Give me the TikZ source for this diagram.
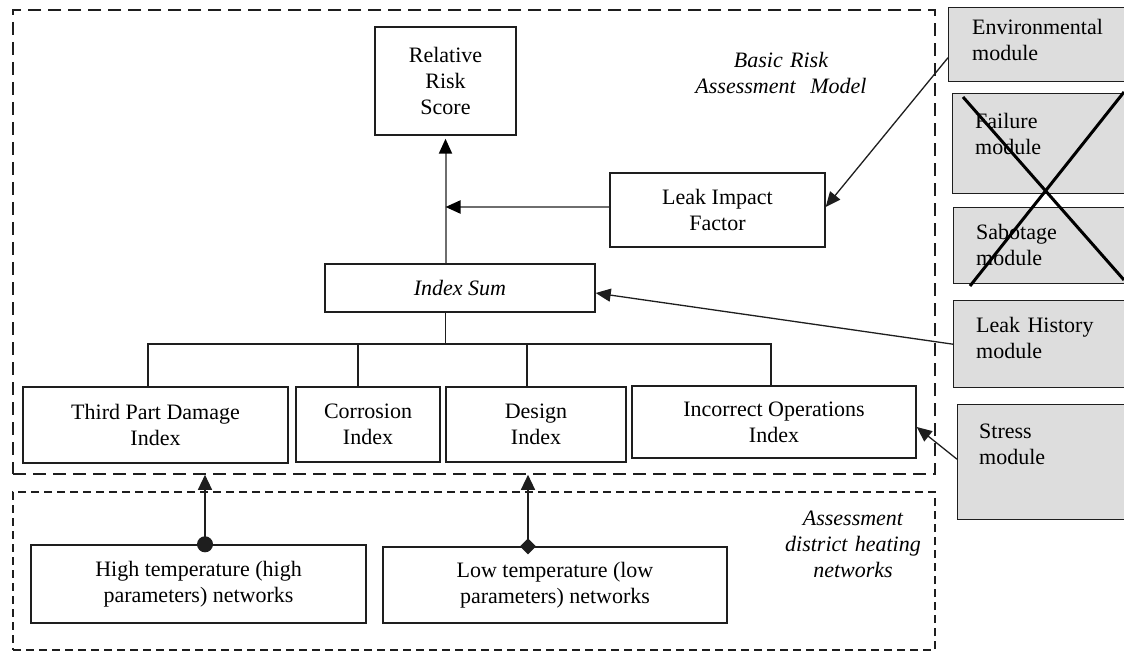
\documentclass[tikz,border=0pt]{standalone}
\usepackage{fontspec}
\setmainfont{Liberation Serif}
\usetikzlibrary{arrows.meta,calc}
\definecolor{modgray}{RGB}{221,221,221}
\definecolor{edgec}{RGB}{30,30,30}
\definecolor{garrowc}{RGB}{110,110,110}
\begin{document}
\begin{tikzpicture}[x=1pt,y=-1pt,
  every node/.style={font=\fontsize{22}{26}\selectfont, inner sep=0pt},
  box/.style={draw=edgec, line width=1.4pt, fill=white, align=center},
  gbox/.style={draw=edgec, line width=1.4pt, fill=modgray},
  frameA/.style={draw=edgec, line width=1.6pt, dash pattern=on 13pt off 7pt},
  frameB/.style={draw=edgec, line width=1.6pt, dash pattern=on 8pt off 5pt},
  conn/.style={draw=edgec, line width=1.3pt},
  arr/.style={conn, -{Triangle[length=15pt,width=13pt]}},
  garr/.style={draw=garrowc, line width=2pt, -{Triangle[length=15pt,width=13pt,fill=black,color=black]}},
  mtext/.style={anchor=base west, align=left, text width=150pt},
  itlabel/.style={anchor=base, align=center, text width=230pt, font=\fontsize{22}{26}\selectfont\itshape},
  ]
\useasboundingbox (0,0) rectangle (1124,652);
\clip (0,0) rectangle (1124,652);
\fill[white] (0,0) rectangle (1124,652);

% dashed frames
\node[frameA, minimum width=922pt, minimum height=464pt] (basic) at (474,242) {};
\node[frameB, minimum width=922pt, minimum height=158pt] (assess) at (474,571) {};

% main boxes
\node[box, minimum width=141pt, minimum height=108pt] (rrs) at (445.5,81) {Relative\\Risk\\Score};
\node[box, minimum width=215pt, minimum height=74pt] (lif) at (717.5,210) {Leak Impact\\Factor};
\node[box, minimum width=270pt, minimum height=48pt] (isum) at (460,288) {\itshape Index Sum};
\node[box, minimum width=265pt, minimum height=76pt] (tpd) at (155.5,425) {Third Part Damage\\Index};
\node[box, minimum width=144pt, minimum height=75pt] (cor) at (368,424.5) {Corrosion\\Index};
\node[box, minimum width=180pt, minimum height=75pt] (des) at (536,424.5) {Design\\Index};
\node[box, minimum width=284pt, minimum height=72pt] (iop) at (774,422) {Incorrect Operations\\Index};
\node[box, minimum width=335pt, minimum height=78pt] (high) at (198.5,584) {High temperature (high\\parameters) networks};
\node[box, minimum width=344pt, minimum height=76pt] (low) at (555,585) {Low temperature (low\\parameters) networks};

% italic labels
\node[itlabel] (brlabel) at (781,68) {Basic Risk\\Assessment\ \ Model};
\node[itlabel] (adlabel) at (853,525) {Assessment\\district heating\\networks};

% modules
\node[gbox, anchor=north west, minimum width=182pt, minimum height=74pt] (env) at (948,7) {};
\node[gbox, anchor=north west, minimum width=180pt, minimum height=100pt] (fail) at (952,93) {};
\node[gbox, anchor=north west, minimum width=180pt, minimum height=76pt] (sab) at (953,207) {};
\node[gbox, anchor=north west, minimum width=180pt, minimum height=87pt] (lh) at (953,300) {};
\node[gbox, anchor=north west, minimum width=180pt, minimum height=115pt] (str) at (957,404) {};
\node[mtext] (envt) at (972,35) {Environmental\\module};
\node[mtext] (failt) at (975,129) {Failure\\module};
\node[mtext] (sabt) at (976,240) {Sabotage\\module};
\node[mtext] (lht) at (976,332) {Leak History\\module};
\node[mtext] (strt) at (979,438) {Stress\\module};

% cross over failure/sabotage
\draw[line width=3pt, black] (963,97) -- (1124,280);
\draw[line width=3pt, black] (1124,92) -- (970,286);

% connectors
\draw[garr] (isum.north -| rrs.south) -- ([yshift=-3pt]rrs.south);
\draw[garr] ([yshift=3pt]lif.west) -- ([yshift=3pt]lif.west -| rrs.south);
\draw[arr] ([yshift=-13pt]env.west) -- ([yshift=3pt]lif.east);
\draw[arr] (lh.west) -- ([yshift=-5pt]isum.east);
\draw[arr] ([yshift=3pt]str.west) -- ([yshift=-5pt]iop.east);

% tree
\coordinate (bus) at (445.5,344);
\draw[conn] (isum.south -| rrs.south) -- (bus);
\draw[conn] ([xshift=-7.5pt]tpd.north) |- ([xshift=-3pt]iop.north |- bus) -- ([xshift=-3pt]iop.north);
\draw[conn] ([xshift=-10pt]cor.north) -- ([xshift=-10pt]cor.north |- bus);
\draw[conn] ([xshift=-9pt]des.north) -- ([xshift=-9pt]des.north |- bus);

% bottom arrows
\draw[conn, {Circle[length=16pt]}-{Triangle[length=15pt,width=14pt]}] ([xshift=6.5pt,yshift=-8pt]high.north) -- ([xshift=6.5pt]high.north |- basic.south);
\draw[conn, {Diamond[length=16pt,width=16pt]}-{Triangle[length=15pt,width=14pt]}] ([xshift=-27pt,yshift=-8pt]low.north) -- ([xshift=-27pt]low.north |- basic.south);
\end{tikzpicture}
\end{document}
